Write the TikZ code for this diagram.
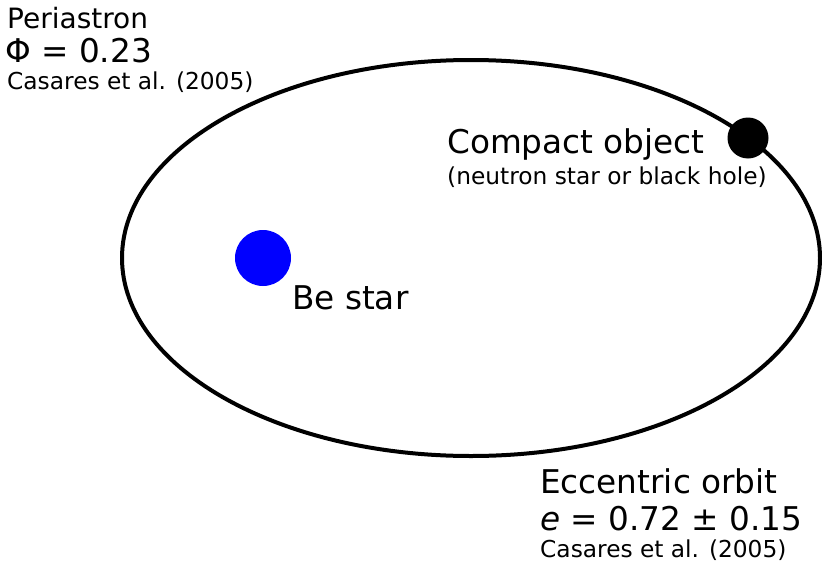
\documentclass[tikz,border=0pt]{standalone}
\usepackage{fontspec}
\setmainfont{DejaVu Sans}
\usetikzlibrary{positioning}

\begin{document}
\begin{tikzpicture}[x=1pt,y=-1pt,
    bigtext/.style={font=\fontsize{32.7}{36}\selectfont,anchor=base west,inner sep=0pt},
    midtext/.style={font=\fontsize{28}{32}\selectfont,anchor=base west,inner sep=0pt},
    smalltext/.style={font=\fontsize{23.3}{26}\selectfont,anchor=base west,inner sep=0pt},
    body/.style={circle,inner sep=0pt}]
    \useasboundingbox (0,0) rectangle (822,565);
    % orbit
    \draw[line width=4pt] (471,258) ellipse [x radius=349, y radius=198];
    % stars
    \node[body,fill=blue,minimum size=56pt] (bestar) at (263,258) {};
    \node[body,fill=black,minimum size=41pt] (compact) at (748,138) {};
    % labels
    \node[bigtext] (belabel) at (292,309) {Be star};
    \node[bigtext] (colabel) at (447,153) {Compact object};
    \node[smalltext] (cosub) at (447,184) {(neutron star or black hole)};
    \node[midtext] (peri) at (7,28) {Periastron};
    \node[bigtext] (phase) at (5,62) {Φ = 0.23};
    \node[smalltext] (periref) at (7,89) {Casares et al. (2005)};
    \node[bigtext] (orbit) at (540,493) {Eccentric orbit};
    \node[bigtext] (ecc) at (540,530) {\textit{e} = 0.72 ± 0.15};
    \node[smalltext] (orbref) at (540,557) {Casares et al. (2005)};
\end{tikzpicture}
\end{document}
